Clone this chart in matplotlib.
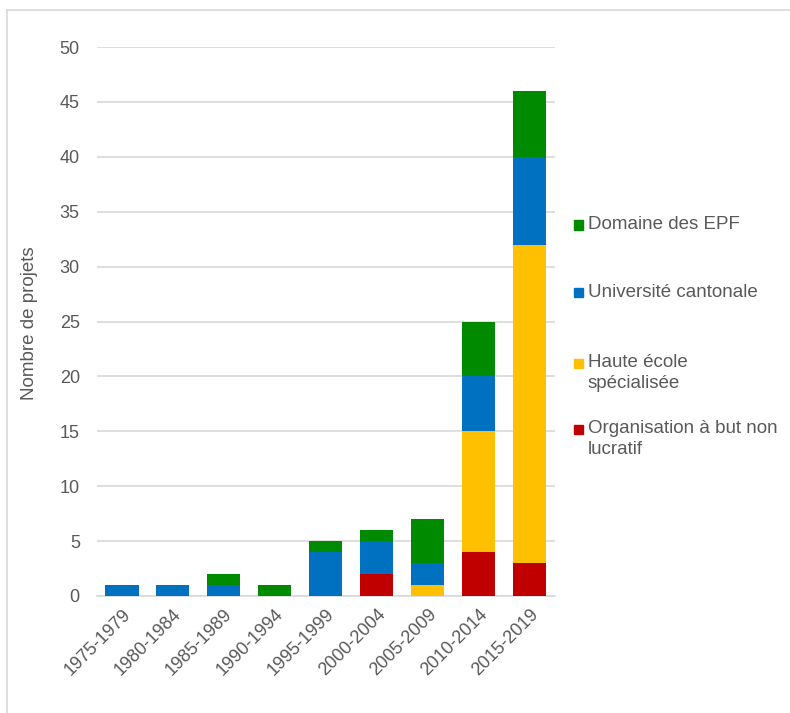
import matplotlib
matplotlib.use("Agg")
import matplotlib.pyplot as plt
from matplotlib.patches import Rectangle
from matplotlib.lines import Line2D
import numpy as np

plt.rcParams['font.family'] = ['Liberation Sans', 'DejaVu Sans']

periods = ["1975-1979", "1980-1984", "1985-1989", "1990-1994", "1995-1999",
           "2000-2004", "2005-2009", "2010-2014", "2015-2019"]
organisation = [0, 0, 0, 0, 0, 2, 0, 4, 3]
haute_ecole = [0, 0, 0, 0, 0, 0, 1, 11, 29]
universite = [1, 1, 1, 0, 4, 3, 2, 5, 8]
epf = [0, 0, 1, 1, 1, 1, 4, 5, 6]

series = [
    ("Organisation à but non\nlucratif", organisation, "#C00000"),
    ("Haute école\nspécialisée", haute_ecole, "#FFC000"),
    ("Université cantonale", universite, "#0070C0"),
    ("Domaine des EPF", epf, "#008A00"),
]

text_color = "#595959"
W, H = 790, 713
fig = plt.figure(figsize=(W / 100, H / 100), dpi=100)

# light frame around the chart area
fig.add_artist(Line2D([7 / W, 7 / W], [0, 1 - 10 / H], color="#D9D9D9", lw=1.2))
fig.add_artist(Line2D([7 / W, 1], [1 - 10 / H, 1 - 10 / H], color="#D9D9D9", lw=1.2))

ax = fig.add_axes([96.5 / W, 1 - 596 / H, (555 - 96.5) / W, (596 - 47) / H])
x = np.arange(len(periods))
bottom = np.zeros(len(periods))
for label, vals, color in series:
    vals = np.array(vals, dtype=float)
    ax.bar(x, vals, 0.65, bottom=bottom, color=color, edgecolor="none", zorder=3)
    bottom += vals

ax.set_xlim(-0.5, len(periods) - 0.5)
ax.set_ylim(0, 50)
ax.set_yticks(range(0, 51, 5))
ax.yaxis.grid(True, color="#D9D9D9", lw=1.2, zorder=0)
for s in ["top", "right", "left"]:
    ax.spines[s].set_visible(False)
ax.spines["bottom"].set_color("#D9D9D9")
ax.spines["bottom"].set_linewidth(1.2)
ax.tick_params(axis="both", length=0, colors=text_color, labelsize=13)
ax.tick_params(axis="y", pad=12)
ax.set_xticks(x)
ax.set_xticklabels(periods, rotation=45, ha="right", rotation_mode="anchor")
ax.tick_params(axis="x", pad=7)
ax.set_ylabel("Nombre de projets", color=text_color, fontsize=13.5)
ax.yaxis.set_label_coords((38 - 96.5) / (555 - 96.5), (596 - 323) / (596 - 47))

# legend, top to bottom
legend_items = [
    ("Domaine des EPF", "#008A00", 225),
    ("Université cantonale", "#0070C0", 293),
    ("Haute école\nspécialisée", "#FFC000", 363),
    ("Organisation à but non\nlucratif", "#C00000", 429),
]
for label, color, ypx in legend_items:
    sq = 9
    fig.add_artist(Rectangle((574 / W, 1 - (ypx + sq / 2) / H), sq / W, sq / H,
                             transform=fig.transFigure, color=color))
    fig.text(588 / W, 1 - (ypx - 9) / H, label, fontsize=13.5, color=text_color,
             va="top", ha="left", linespacing=1.3)

fig.savefig("out.png", dpi=100, facecolor="white")
